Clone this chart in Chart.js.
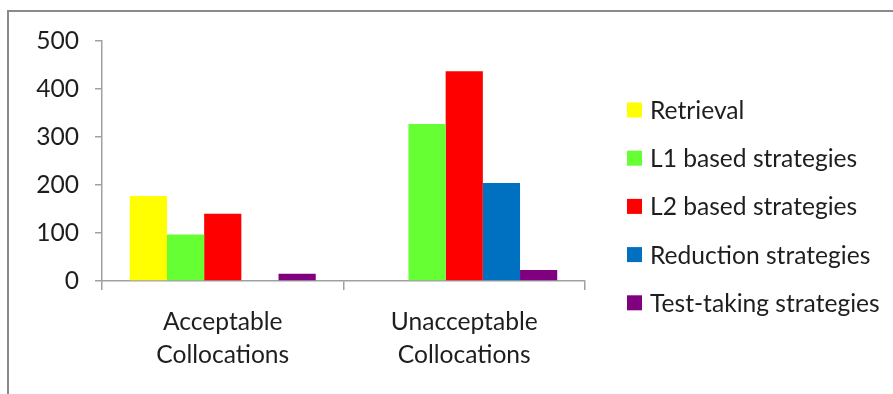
<!DOCTYPE html>
<html>
<head>
<meta charset="utf-8">
<script src="https://cdn.jsdelivr.net/npm/chart.js@4/dist/chart.umd.min.js"></script>
<style>
  html, body { margin: 0; padding: 0; background: #fff; }
  #wrap { width: 893px; height: 394px; position: relative; }
</style>
</head>
<body>
<div id="wrap"><canvas id="c" width="893" height="394"></canvas></div>
<script>
// Strategy counts per collocation type
const categories = [['Acceptable', 'Collocations'], ['Unacceptable', 'Collocations']];
const seriesNames = ['Retrieval', 'L1 based strategies', 'L2 based strategies', 'Reduction strategies', 'Test-taking strategies'];
const retrieval = [177, 0];
const l1Based = [97, 327];
const l2Based = [140, 437];
const reduction = [0, 204];
const testTaking = [15, 23];
const yTicks = [0, 100, 200, 300, 400, 500];

const seriesValues = [retrieval, l1Based, l2Based, reduction, testTaking];
const seriesColors = ['#FFFF00', '#66FF33', '#FF0000', '#0070C0', '#800080'];

const FONT = 'Lato, "Open Sans", sans-serif';
const FONT_SIZE = 24.6;
const TEXT = '#1e1e1e';
const AXIS = '#a0a0a0';

// Outer frame (left and top edges)
const framePlugin = {
  id: 'frame',
  beforeDraw(chart) {
    const ctx = chart.ctx;
    ctx.save();
    ctx.strokeStyle = '#8a8a8a';
    ctx.lineWidth = 2;
    ctx.beginPath();
    ctx.moveTo(8, chart.height);
    ctx.lineTo(8, 11);
    ctx.lineTo(chart.width, 11);
    ctx.stroke();
    ctx.restore();
  }
};

// Legend column to the right of the plot
const sideLegend = {
  id: 'sideLegend',
  afterDraw(chart) {
    const ctx = chart.ctx;
    ctx.save();
    ctx.font = FONT_SIZE + 'px ' + FONT;
    ctx.textBaseline = 'middle';
    const x0 = 627, y0 = 110, step = 48.2, box = 15;
    chart.data.datasets.forEach((ds, i) => {
      const cy = y0 + i * step;
      ctx.fillStyle = ds.backgroundColor;
      ctx.fillRect(x0, cy - box / 2, box, box);
      ctx.fillStyle = TEXT;
      ctx.fillText(ds.label, x0 + 23, cy + 1);
    });
    ctx.restore();
  }
};

new Chart(document.getElementById('c'), {
  type: 'bar',
  data: {
    labels: categories,
    datasets: seriesNames.map((name, i) => ({
      label: name,
      data: seriesValues[i],
      backgroundColor: seriesColors[i],
      borderWidth: 0,
      barPercentage: 1,
      categoryPercentage: 0.77
    }))
  },
  options: {
    responsive: false,
    animation: false,
    devicePixelRatio: 1,
    layout: { padding: { left: 0, top: 41, right: 308, bottom: 0 } },
    plugins: {
      legend: { display: false },
      tooltip: { enabled: false }
    },
    scales: {
      x: {
        offset: true,
        grid: { offset: true, drawOnChartArea: false, tickLength: 9, color: AXIS, lineWidth: 1.5 },
        border: { color: AXIS, width: 1.5 },
        ticks: { color: TEXT, padding: 16, font: { family: FONT, size: FONT_SIZE, lineHeight: 1.32 } },
        afterFit(scale) { scale.height = 113; }
      },
      y: {
        min: 0,
        max: 500,
        afterBuildTicks(scale) { scale.ticks = yTicks.map(v => ({ value: v })); },
        grid: { drawOnChartArea: false, tickLength: 7, color: AXIS, lineWidth: 1.5 },
        border: { color: AXIS, width: 1.5 },
        ticks: { color: TEXT, padding: 16, font: { family: FONT, size: FONT_SIZE } },
        afterFit(scale) { scale.width = 102; }
      }
    }
  },
  plugins: [framePlugin, sideLegend]
});
</script>
</body>
</html>
